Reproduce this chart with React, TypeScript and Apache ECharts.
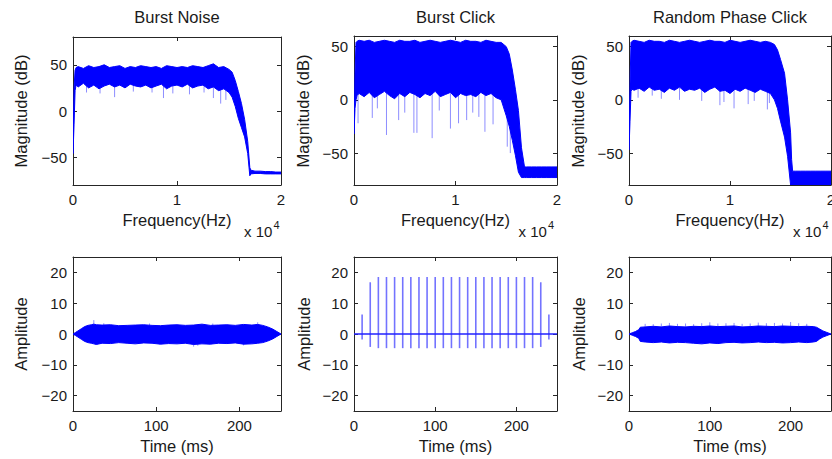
import React, { useEffect, useRef } from 'react';
import * as echarts from 'echarts';

// ---------- data ----------
const titles = ['Burst Noise', 'Burst Click', 'Random Phase Click'];
const freqTicks = [0, 10000, 20000];
const magTicksNoise = [-50, 0, 50];
const magTicksClick = [-50, 0, 50];
const timeTicks = [0, 100, 200];
const ampTicks = [-20, -10, 0, 10, 20];

// Burst Noise spectrum (Hz, dB)
const noiseFreq = [0, 100, 200, 300, 500, 1000, 1500, 2000, 2500, 3000, 3500, 4000, 4500, 5000, 5500, 6000, 6500, 7000, 7500, 8000, 8500, 9000, 9500, 10000, 10500, 11000, 11500, 12000, 12500, 13000, 13500, 14000, 14500, 15000, 15300, 15600, 15900, 16200, 16500, 16800, 17000, 17100, 17500, 18000, 18500, 19000, 19500, 20000];
const noiseUpper = [-40, 25, 44, 47, 48, 46, 49, 47, 48, 50, 47, 48, 49, 46, 48, 47, 49, 48, 47, 48, 46, 49, 48, 47, 48, 47, 49, 48, 47, 49, 51, 47, 48, 45, 42, 33, 21, 8, -9, -33, -61, -64, -65, -65, -65.5, -65.5, -66, -66];
const noiseLower = [-46, -15, 22, 28, 26, 30, 25, 28, 24, 27, 29, 26, 28, 25, 29, 27, 26, 28, 25, 27, 29, 24, 27, 28, 26, 29, 25, 27, 28, 24, 26, 22, 24, 20, 15, 5, -8, -18, -28, -46, -70, -68, -67.5, -67.5, -68, -68, -68, -68];
const noiseDips = [[1300, 20], [2600, 19], [4000, 15], [5800, 21], [7600, 20], [8700, 14], [9600, 19], [11200, 18], [12600, 20], [13500, 14], [14200, 8], [14700, 12]];

// Burst Click spectrum
const clickFreq = [0, 100, 200, 300, 500, 1000, 1500, 2000, 2500, 3000, 3500, 4000, 4500, 5000, 5500, 6000, 6500, 7000, 7500, 8000, 8500, 9000, 9500, 10000, 10500, 11000, 11500, 12000, 12500, 13000, 13500, 14000, 14500, 15000, 15300, 15600, 15900, 16200, 16500, 16800, 17000, 17500, 18000, 18500, 19000, 19500, 20000];
const clickUpper = [-30, 25, 54, 55, 56, 55, 56, 54, 55, 56, 55, 54, 56, 55, 55, 56, 54, 55, 56, 55, 54, 55, 56, 55, 54, 56, 55, 55, 54, 56, 55, 54, 54, 50, 43, 28, 10, -10, -45, -63, -63, -63, -63, -63, -63, -63, -63];
const clickLower = [-32, -8, 0, 4, 6, 3, 7, 2, 5, 8, 4, 1, 6, 3, 7, 5, 2, 6, 4, 8, 3, 5, 7, 2, 6, 4, 5, 3, 7, 4, 6, 2, 0, -15, -25, -38, -52, -68, -73, -73, -73, -73, -73, -73, -73, -73, -73];
const clickDips = [[400, -22], [1800, -17], [2300, -8], [3200, -33], [4400, -19], [5000, -12], [5900, -31], [6200, -31], [7700, -36], [8400, -10], [9500, -27], [10300, -22], [11100, -19], [11700, -12], [12300, -16], [12900, -30], [13700, -23], [15100, -44], [15400, -50]];

// Random Phase Click spectrum
const rpFreq = [0, 100, 200, 300, 500, 1000, 1500, 2000, 2500, 3000, 3500, 4000, 4500, 5000, 5500, 6000, 6500, 7000, 7500, 8000, 8500, 9000, 9500, 10000, 10500, 11000, 11500, 12000, 12500, 13000, 13500, 14000, 14400, 14700, 15000, 15400, 15700, 16000, 16100, 16200, 16500, 17000, 17500, 18000, 18500, 19000, 19500, 20000];
const rpUpper = [-45, 15, 54, 55, 56, 55, 54, 56, 55, 55, 54, 56, 55, 54, 55, 56, 55, 54, 55, 56, 55, 55, 54, 56, 55, 54, 55, 56, 55, 54, 55, 54, 52, 47, 38, 25, 0, -31, -56, -67, -67, -67, -67, -67, -67, -67, -67, -67];
const rpLower = [-47, -20, 8, 10, 9, 11, 8, 12, 9, 10, 7, 11, 9, 12, 8, 10, 9, 11, 7, 10, 12, 8, 9, 6, 10, 8, 11, 9, 7, 10, 8, 6, 0, -8, -20, -35, -53, -80, -80, -80, -80, -80, -80, -80, -80, -80, -80, -80];
const rpDips = [[900, 2], [2300, 4], [3200, 1], [5000, 0], [7200, -1], [9000, -5], [9400, -2], [10400, -8], [11800, -4], [12400, -1], [13700, -9], [13900, -3]];

// Burst Noise waveform (ms, amplitude)
const noiseTime = [0, 3, 6, 10, 14, 18, 22, 25, 28, 35, 45, 55, 65, 75, 85, 95, 105, 115, 125, 135, 145, 155, 165, 175, 185, 195, 205, 215, 222, 228, 234, 240, 245, 250];
const noiseAmpUpper = [0, 0.5, 1, 1.7, 2.4, 2.8, 3, 3.2, 3, 2.9, 3, 2.7, 2.8, 2.9, 3, 2.8, 2.7, 2.9, 3, 2.8, 2.9, 3.2, 2.8, 2.9, 3, 2.8, 3.1, 2.9, 3.1, 2.8, 2.3, 1.6, 0.8, 0];
const noiseAmpLower = [0, -0.5, -1, -1.7, -2.4, -2.8, -3, -3.2, -3.4, -3, -3.1, -2.8, -3, -3.2, -2.9, -3, -3.3, -3.1, -3.2, -3, -3.4, -3.2, -3.3, -3, -3.1, -2.9, -3.3, -3.2, -3, -2.8, -2.3, -1.6, -0.8, 0];
const noisePeaks = [[25, 4.5], [37, 3.5], [92, 3.4], [145, -4.1], [150, -3.8], [168, 3.4], [205, -3.7], [222, 3.8]];

// Burst Click waveform
const clickTimes = [10, 20, 30, 40, 50, 60, 70, 80, 90, 100, 110, 120, 130, 140, 150, 160, 170, 180, 190, 200, 210, 220, 230, 240];
const clickPeaks = [6.3, 16.8, 18.5, 18.5, 18.5, 18.5, 18.5, 18.5, 18.5, 18.5, 18.5, 18.5, 18.5, 18.5, 18.5, 18.5, 18.5, 18.5, 18.5, 18.5, 18.5, 18.5, 16.8, 6.3];
const clickTroughs = [-1.8, -4.2, -4.6, -4.6, -4.6, -4.6, -4.6, -4.6, -4.6, -4.6, -4.6, -4.6, -4.6, -4.6, -4.6, -4.6, -4.6, -4.6, -4.6, -4.6, -4.6, -4.6, -4.2, -1.8];
const clickBaseTime = [0, 250];
const clickBaseAmp = [0, 0];

// Random Phase Click waveform
const rpTime = [0, 4, 8, 12, 14, 20, 30, 40, 50, 60, 70, 80, 90, 100, 110, 120, 130, 140, 150, 160, 170, 180, 190, 200, 210, 220, 228, 232, 236, 240, 245, 250];
const rpAmpUpper = [0, 0.4, 0.8, 1.4, 2.2, 2.3, 2.5, 2.3, 2.6, 2.4, 2.3, 2.5, 2.4, 2.6, 2.4, 2.5, 2.6, 2.3, 2.4, 2.6, 2.5, 2.4, 2.6, 2.5, 2.4, 2.5, 2.4, 2.2, 1.6, 1, 0.5, 0];
const rpAmpLower = [0, -0.4, -0.8, -1.4, -2.4, -2.6, -2.8, -2.6, -2.9, -2.7, -2.8, -3, -3.2, -2.9, -3.1, -2.8, -2.7, -2.9, -2.8, -2.6, -2.8, -2.7, -2.9, -2.8, -2.6, -2.8, -2.6, -2.4, -1.6, -1, -0.5, 0];
const rpPeaks = [[20, 3.3], [30, 3.2], [40, 3.4], [50, 3.6], [60, 3.3], [70, 3.4], [80, 3.2], [90, 3.5], [100, 3.8], [110, 3.4], [120, 3.5], [130, 3.6], [140, 3.3], [150, 3.4], [160, 3.7], [170, 3.5], [180, 3.6], [190, 3.4], [200, 3.9], [210, 3.5], [220, 3.3]];

// ---------- styling ----------
const BLUE = '#0000ff';
const LIGHT = 'rgba(0,0,255,0.45)';
const AXIS = '#262626';
const TEXT = '#1a1a1a';
const FONT = "'Liberation Sans', Arial, sans-serif";

const grids = [
  { left: 73, top: 37, width: 208, height: 148 },
  { left: 354, top: 36, width: 203, height: 149 },
  { left: 629, top: 36, width: 202, height: 149 },
  { left: 73, top: 257, width: 208, height: 154 },
  { left: 354, top: 257, width: 203, height: 154 },
  { left: 629, top: 257, width: 202, height: 154 },
];

const minus = (s: string) => s.replace('-', '\u2212');

function makeX(g: number, min: number, max: number, interval: number, ticks: number[], fmt: (v: number) => string) {
  const common: any = {
    gridIndex: g, type: 'value', min, max, interval,
    splitLine: { show: false },
    axisLine: { show: true, onZero: false, lineStyle: { color: AXIS, width: 1 } },
    axisTick: { show: true, inside: true, length: 4, lineStyle: { color: AXIS } },
  };
  return [
    { ...common, position: 'bottom', axisLabel: { margin: 7, fontSize: 15, fontFamily: FONT, color: TEXT, formatter: (v: number) => (ticks.includes(v) ? fmt(v) : '') } },
    { ...common, position: 'top', axisLabel: { show: false } },
  ];
}

function makeY(g: number, min: number, max: number, step: number, ticks: number[]) {
  const common: any = {
    gridIndex: g, type: 'value', min, max, minInterval: step, maxInterval: step,
    splitLine: { show: false },
    axisLine: { show: true, onZero: false, lineStyle: { color: AXIS, width: 1 } },
    axisTick: { show: true, inside: true, length: 4, lineStyle: { color: AXIS } },
  };
  return [
    { ...common, position: 'left', axisLabel: { margin: 6, fontSize: 15, fontFamily: FONT, color: TEXT, showMinLabel: false, showMaxLabel: false, formatter: (v: number) => (ticks.includes(v) ? minus(String(v)) : '') } },
    { ...common, position: 'right', axisLabel: { show: false } },
  ];
}

function band(g: number, xs: number[], up: number[], lo: number[]) {
  return {
    type: 'custom', xAxisIndex: g * 2, yAxisIndex: g * 2, clip: true, silent: true,
    data: xs.map((x, i) => [x, up[i], lo[i]]),
    encode: { x: 0, y: [1, 2] },
    renderItem: (params: any, api: any) => {
      if (params.dataIndex !== 0) return null;
      const pts: number[][] = [];
      for (let i = 0; i < xs.length; i++) pts.push(api.coord([xs[i], up[i]]));
      for (let i = xs.length - 1; i >= 0; i--) pts.push(api.coord([xs[i], lo[i]]));
      return { type: 'polygon', shape: { points: pts }, style: { fill: BLUE, stroke: BLUE, lineWidth: 1 } };
    },
  };
}

function sticks(g: number, pts: number[][], anchor: number, color: string, width: number) {
  return {
    type: 'custom', xAxisIndex: g * 2, yAxisIndex: g * 2, clip: true, silent: true,
    data: pts,
    encode: { x: 0, y: 1 },
    renderItem: (_p: any, api: any) => {
      const a = api.coord([api.value(0), api.value(1)]);
      const b = api.coord([api.value(0), anchor]);
      return { type: 'line', shape: { x1: a[0], y1: a[1], x2: b[0], y2: b[1] }, style: { stroke: color, lineWidth: width } };
    },
  };
}

function clickSpikes(g: number) {
  return {
    type: 'custom', xAxisIndex: g * 2, yAxisIndex: g * 2, clip: true, silent: true,
    data: clickTimes.map((t, i) => [t, clickPeaks[i], clickTroughs[i]]),
    encode: { x: 0, y: [1, 2] },
    renderItem: (_p: any, api: any) => {
      const a = api.coord([api.value(0), api.value(1)]);
      const b = api.coord([api.value(0), api.value(2)]);
      return { type: 'line', shape: { x1: a[0], y1: a[1], x2: b[0], y2: b[1] }, style: { stroke: 'rgba(0,0,255,0.55)', lineWidth: 1.6 } };
    },
  };
}

function buildOption() {
  const xAxis: any[] = [];
  const yAxis: any[] = [];
  for (let g = 0; g < 3; g++) {
    xAxis.push(...makeX(g, 0, 20000, 10000, freqTicks, (v) => String(v / 10000)));
  }
  for (let g = 3; g < 6; g++) {
    xAxis.push(...makeX(g, 0, 250, 100, timeTicks, (v) => String(v)));
  }
  yAxis.push(...makeY(0, -80, 80, 50, magTicksNoise));
  yAxis.push(...makeY(1, -80, 60, 50, magTicksClick));
  yAxis.push(...makeY(2, -80, 60, 50, magTicksClick));
  for (let g = 3; g < 6; g++) yAxis.push(...makeY(g, -25, 25, 10, ampTicks));

  const series: any[] = [
    sticks(0, noiseDips, 30, LIGHT, 1),
    band(0, noiseFreq, noiseUpper, noiseLower),
    sticks(1, clickDips, 10, LIGHT, 1),
    band(1, clickFreq, clickUpper, clickLower),
    sticks(2, rpDips, 12, LIGHT, 1),
    band(2, rpFreq, rpUpper, rpLower),
    sticks(3, noisePeaks, 0, LIGHT, 1),
    band(3, noiseTime, noiseAmpUpper, noiseAmpLower),
    {
      type: 'line', xAxisIndex: 8, yAxisIndex: 8, symbol: 'none', silent: true,
      data: clickBaseTime.map((t, i) => [t, clickBaseAmp[i]]),
      lineStyle: { color: '#2020ff', width: 1.5 },
    },
    clickSpikes(4),
    sticks(5, rpPeaks, 0, LIGHT, 1),
    band(5, rpTime, rpAmpUpper, rpAmpLower),
  ];

  const txt = (text: string, x: number, y: number, size: number, align = 'center', rotation = 0) => ({
    type: 'text', x, y, rotation, silent: true,
    style: { text, fill: TEXT, font: `${size}px ${FONT}`, textAlign: align, textVerticalAlign: 'middle' },
  });
  const cx = [177, 455.5, 730];
  const graphic: any[] = [];
  titles.forEach((t, i) => graphic.push(txt(t, cx[i], 17, 16.5)));
  cx.forEach((x) => graphic.push(txt('Frequency(Hz)', x, 220, 16.5)));
  cx.forEach((x) => graphic.push(txt('Time (ms)', x, 446, 16.5)));
  [244, 518.5, 793].forEach((x) => {
    graphic.push(txt('x 10', x, 231, 15, 'left'));
    graphic.push(txt('4', x + 29.5, 224.5, 11, 'left'));
  });
  [20.7, 302.5, 577.5].forEach((x) => graphic.push(txt('Magnitude (dB)', x, 111, 16.5, 'center', Math.PI / 2)));
  [21, 304, 579].forEach((x) => graphic.push(txt('Amplitude', x, 334, 16.5, 'center', Math.PI / 2)));

  return {
    animation: false,
    backgroundColor: '#ffffff',
    grid: grids.map((gr) => ({ ...gr, containLabel: false, outerBoundsMode: 'none' })),
    xAxis,
    yAxis,
    series,
    graphic,
  };
}

export default function App() {
  const ref = useRef<HTMLDivElement>(null);
  useEffect(() => {
    const chart = echarts.init(ref.current!, undefined, { renderer: 'svg' });
    chart.setOption(buildOption() as any);
    return () => chart.dispose();
  }, []);
  return <div ref={ref} style={{ position: 'fixed', left: 0, top: 0, width: 832, height: 459 }} />;
}
